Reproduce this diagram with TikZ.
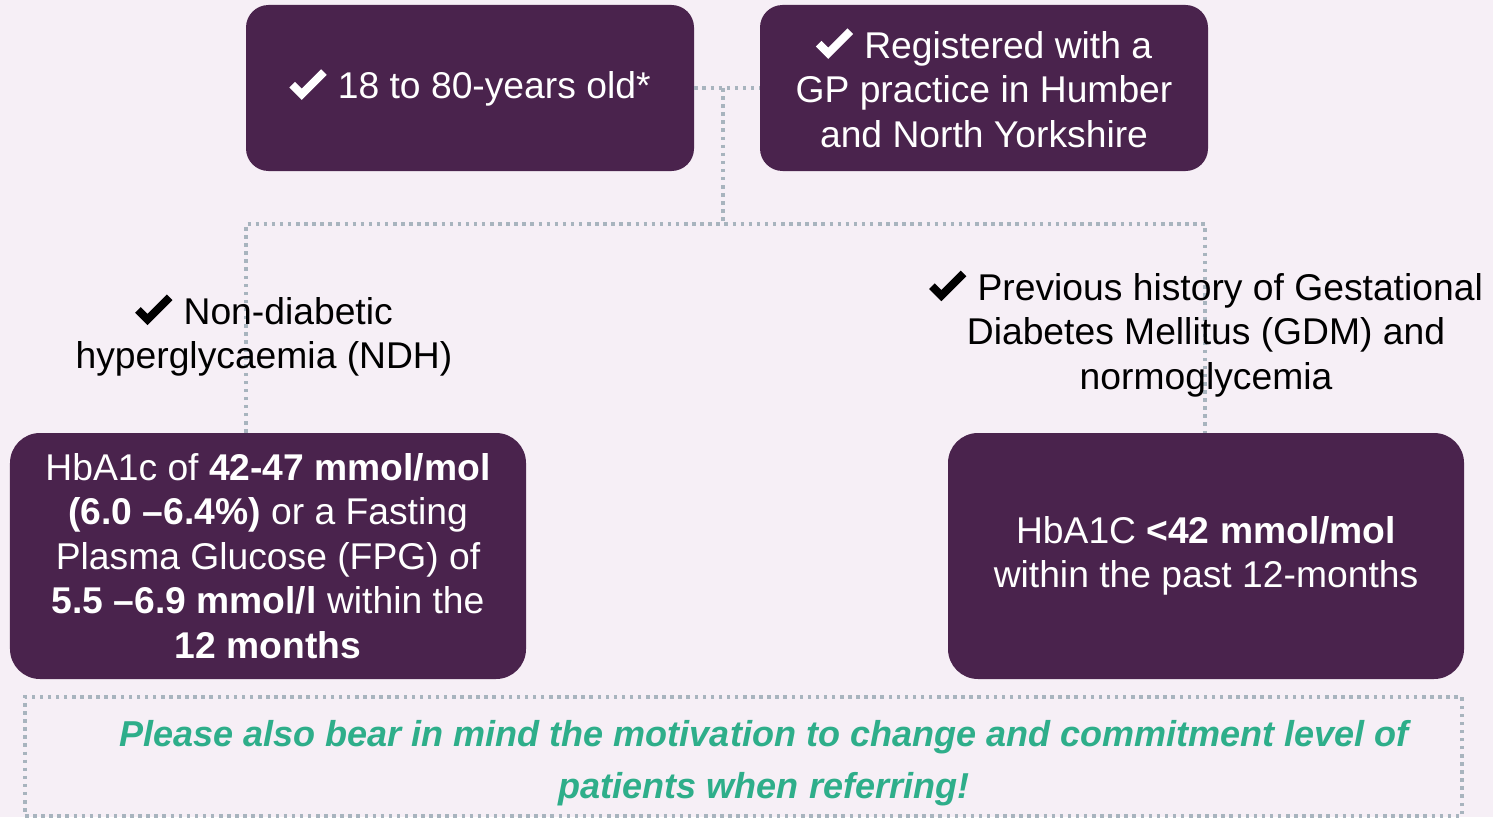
\documentclass[tikz,border=0pt]{standalone}
\usepackage{fontspec}
\setmainfont{Liberation Sans}
\usetikzlibrary{calc}
\definecolor{pagebg}{RGB}{246,239,246}
\definecolor{plum}{RGB}{74,35,77}
\definecolor{linkgrey}{RGB}{168,180,190}
\definecolor{notegreen}{RGB}{46,174,138}
% chunky tick drawn in the current text colour
\newcommand{\okmark}{\tikz[baseline=0pt, x=1pt, y=1pt, sharp corners]
  \fill (0,6.5) -- (3.2,9.7) -- (7,5.9) -- (18,16.9) -- (21.2,13.7) -- (7,-0.5) -- cycle;\hspace{0.3em}}
\tikzset{
  crit/.style={fill=plum, text=white, rounded corners=0.45cm, align=center, inner sep=0pt,
    font=\fontsize{21.2}{25.4}\selectfont},
  link/.style={linkgrey, line width=2pt, dash pattern=on 2pt off 2.6pt},
  label/.style={align=center, font=\fontsize{21.2}{25.4}\selectfont}
}
\begin{document}
	\begin{tikzpicture}
		\fill[pagebg] (0,0) rectangle (29.86,-16.34);
		\useasboundingbox (0,0) rectangle (29.86,-16.34);
		\node[crit, minimum width=8.96cm, minimum height=3.32cm] (age) at (9.40,-1.76) {\okmark18 to 80-years old*};
		\node[crit, minimum width=8.96cm, minimum height=3.32cm] (gp) at (19.68,-1.76) {\okmark Registered with a\\GP practice in Humber\\and North Yorkshire};
		\node[crit, rounded corners=0.6cm, minimum width=10.32cm, minimum height=4.92cm] (ndh) at (5.36,-11.12)
			{HbA1c of \textbf{42-47 mmol/mol}\\\textbf{(6.0 –6.4\%)} or a Fasting\\Plasma Glucose (FPG) of\\\textbf{5.5 –6.9 mmol/l} within the\\\textbf{12 months}};
		\node[crit, rounded corners=0.6cm, minimum width=10.32cm, minimum height=4.92cm] (gdm) at (24.12,-11.12)
			{HbA1C \textbf{<42 mmol/mol}\\within the past 12-months};
		\coordinate (split) at ($(age.east)!0.44!(gp.west)$);
		\coordinate (barL) at (4.92,-4.48);
		\coordinate (barR) at (24.10,-4.48);
		\draw[link] (age.east) -- (gp.west);
		\draw[link] (split) -- (split |- barL);
		\draw[link] (ndh.north -| barL) -- (barL) -- (barR) -- (gdm.north -| barR);
		\node[label] (ndhtext) at (5.28,-6.71) {\okmark Non-diabetic\\hyperglycaemia (NDH)};
		\node[label] (gdmtext) at (24.12,-6.68) {\okmark Previous history of Gestational\\Diabetes Mellitus (GDM) and\\normoglycemia};
		\node[draw=linkgrey, line width=2pt, dash pattern=on 2pt off 2.6pt, minimum width=28.74cm, minimum height=2.38cm] (note) at (14.87,-15.13) {};
		\node[align=center, text=notegreen, font=\fontsize{20.5}{29.5}\selectfont\bfseries\itshape] (notetext) at (15.28,-15.26)
			{Please also bear in mind the motivation to change and commitment level of\\patients when referring!};
	\end{tikzpicture}
\end{document}
